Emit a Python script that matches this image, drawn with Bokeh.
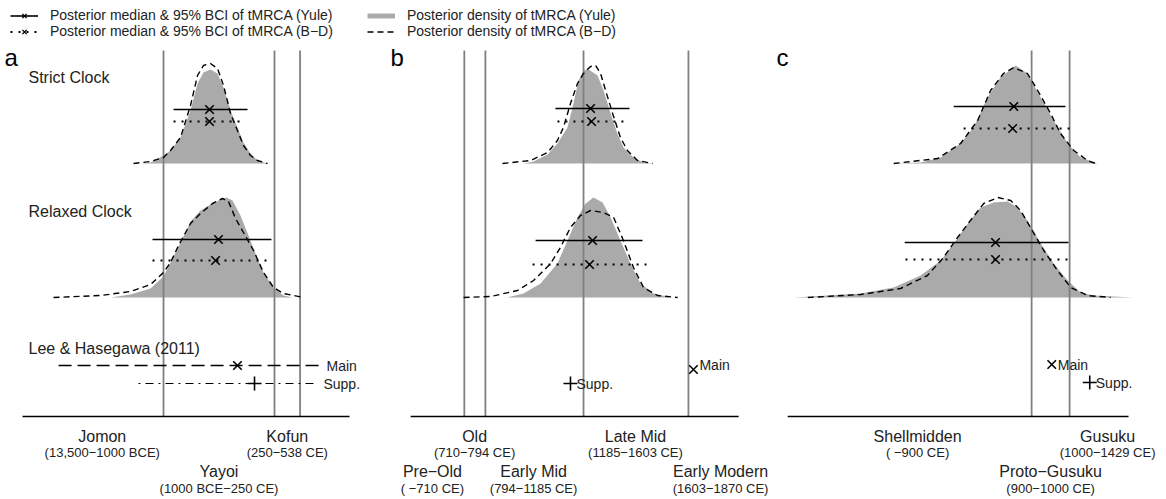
import numpy as np
from bokeh.plotting import figure
from bokeh.layouts import column, row
from bokeh.models import ColumnDataSource, Range1d, Label, Legend, LegendItem
from bokeh.core.properties import value
from bokeh.embed import file_html
from bokeh.resources import INLINE

# ---------------------------------------------------------------- data
# years CE (negative = BCE); density heights in relative units

# Panel a: mainland Japanese
a_strict_yule_x = [-1259, -1146, -1000, -921, -809, -696, -617, -550, -471, -392, -324, -245, -167, -99, -20, 59, 171]
a_strict_yule_h = [0, 1, 8, 13, 26, 53, 80, 91, 94, 90, 76, 53, 36, 21, 10, 3, 0]
a_strict_bd_x = [-1338, -1146, -1000, -921, -809, -696, -617, -550, -471, -392, -324, -245, -167, -99, -20, 59, 171]
a_strict_bd_h = [0, 2, 6, 13, 26, 58, 88, 98, 100, 95, 78, 50, 33, 18, 8, 3, 0]
a_relax_yule_x = [-1597, -1372, -1146, -1000, -865, -775, -696, -583, -471, -358, -291, -223, -133, -43, 36, 126, 239, 351, 453]
a_relax_yule_h = [0, 3, 9, 21, 45, 61, 76, 87, 93, 98, 100, 97, 82, 62, 44, 25, 10, 2, 0]
a_relax_bd_x = [-2239, -1709, -1372, -1146, -1000, -921, -831, -696, -583, -448, -336, -268, -189, -99, 14, 126, 239, 351, 577]
a_relax_bd_h = [0, 2, 6, 13, 25, 35, 52, 74, 84, 94, 99, 96, 79, 65, 47, 25, 10, 4, 0]
a_bci_lo = [-887, -887, -1124, -1124]      # strict Yule, strict B-D, relaxed Yule, relaxed B-D
a_bci_hi = [-54, -77, 216, 227]
a_bci_med = [-482, -482, -381, -414]
a_lee_lo = [-2182, -1282]                  # Main, Supp.
a_lee_hi = [768, 734]
a_lee_med = [-167, 25]
a_periods = ["Jomon", "Yayoi", "Kofun"]
a_spans = ["(13,500\u22121000 BCE)", "(1000 BCE\u2212250 CE)", "(250\u2212538 CE)"]
a_bounds = [-1000, 250, 538]

# Panel b: Japanese (historical)
b_strict_yule_x = [946, 986, 1042, 1081, 1121, 1145, 1165, 1185, 1205, 1241, 1265, 1293, 1320, 1344, 1384, 1424, 1464]
b_strict_yule_h = [0, 2, 9, 20, 36, 60, 83, 93, 94, 88, 73, 50, 30, 16, 6, 1, 0]
b_strict_bd_x = [862, 974, 1042, 1081, 1105, 1133, 1161, 1185, 1213, 1233, 1253, 1273, 1301, 1332, 1360, 1400, 1460]
b_strict_bd_h = [0, 3, 11, 23, 36, 60, 80, 90, 97, 98, 90, 73, 50, 26, 13, 3, 0]
b_relax_yule_x = [882, 946, 1014, 1081, 1121, 1161, 1193, 1225, 1261, 1293, 1332, 1372, 1412, 1464, 1532]
b_relax_yule_h = [0, 4, 14, 34, 57, 80, 94, 100, 95, 80, 57, 34, 14, 4, 0]
b_relax_bd_x = [707, 815, 922, 986, 1054, 1093, 1133, 1173, 1213, 1265, 1305, 1344, 1384, 1424, 1480, 1560]
b_relax_bd_h = [0, 1, 7, 17, 34, 50, 70, 82, 87, 85, 80, 57, 30, 10, 2, 0]
b_bci_lo = [1073, 1081, 994, 982]
b_bci_hi = [1368, 1368, 1420, 1436]
b_bci_med = [1213, 1217, 1221, 1209]
b_lee_med = [1623, 1133]
b_periods = ["Pre\u2212Old", "Old", "Early Mid", "Late Mid", "Early Modern"]
b_spans = ["( \u2212710 CE)", "(710\u2212794 CE)", "(794\u22121185 CE)", "(1185\u22121603 CE)", "(1603\u22121870 CE)"]
b_bounds = [710, 794, 1185, 1603]

# Panel c: Ryukyuan
c_strict_yule_x = [537, 608, 661, 713, 747, 784, 818, 858, 889, 924, 958, 995, 1029, 1074]
c_strict_yule_h = [0, 1, 6, 20, 36, 66, 86, 98, 90, 66, 43, 20, 6, 0]
c_strict_bd_x = [537, 653, 713, 758, 792, 826, 853, 889, 916, 950, 976, 1011, 1047, 1068]
c_strict_bd_h = [0, 5, 20, 43, 73, 90, 96, 90, 73, 50, 30, 13, 3, 0]
c_relax_yule_x = [274, 450, 537, 608, 661, 695, 732, 766, 800, 837, 863, 889, 924, 958, 995, 1029, 1063, 1168]
c_relax_yule_h = [0, 4, 10, 22, 37, 54, 74, 90, 95, 96, 90, 77, 54, 34, 17, 5, 2, 0]
c_relax_bd_x = [311, 450, 555, 626, 668, 705, 739, 774, 811, 845, 871, 897, 932, 968, 1003, 1047, 1108]
c_relax_bd_h = [0, 3, 9, 22, 40, 60, 77, 94, 100, 97, 87, 70, 47, 27, 10, 2, 0]
c_bci_lo = [695, 721, 566, 568]
c_bci_hi = [989, 1003, 997, 997]
c_bci_med = [853, 850, 805, 805]
c_lee_med = [953, 1053]
c_periods = ["Shellmidden", "Proto\u2212Gusuku", "Gusuku"]
c_spans = ["( \u2212900 CE)", "(900\u22121000 CE)", "(1000\u22121429 CE)"]
c_bounds = [900, 1000]

# ---------------------------------------------------------------- layout / style
FONT = "Liberation Sans"
FILL = "#aaaaaa"
VLINE = "#808080"
TXT = "#222222"
LEG_H = 40
PANEL_H = 458
Y_RANGE = (-82, 376)
STRICT_BASE, RELAX_BASE = 253, 119
VTOP = 366

layout_cfg = {
    "a": dict(width=380, xr=(-2836, 1444), axis=(-2588, 1095),
              bar_y=[307, 295, 177, 156], lee_y=[51, 33],
              label_at=[-1690, -375, 394], label_row=[1, 2, 1], letter_x=4),
    "b": dict(width=392, xr=(376, 1938), axis=(496, 1803),
              bar_y=[308, 295, 176, 152], lee_y=[47, 33],
              label_at=[583, 751, 986, 1392, 1731], label_row=[2, 1, 2, 1, 2], letter_x=10),
    "c": dict(width=394, xr=(218, 1255), axis=(258, 1155),
              bar_y=[310, 288, 174, 157], lee_y=[52, 34],
              label_at=[600, 950, 1100], label_row=[1, 2, 1], letter_x=4),
}
ROW_NAME_Y = {1: -20, 2: -55}
ROW_SPAN_Y = {1: -36, 2: -72}


def base_fig(w, h, xr, yr):
    p = figure(width=w, height=h, x_range=Range1d(*xr), y_range=Range1d(*yr),
               x_axis_location=None, y_axis_location=None, toolbar_location=None,
               output_backend="svg", min_border=0, outline_line_color=None)
    p.xgrid.visible = False
    p.ygrid.visible = False
    p.background_fill_color = "white"
    return p


def density(p, yx, yh, bx, bh, base):
    ys = ColumnDataSource(dict(x=yx, y1=[base] * len(yx), y2=list(np.array(yh) + base)))
    p.varea(x="x", y1="y1", y2="y2", source=ys, fill_color=FILL)
    return ColumnDataSource(dict(x=bx, y=list(np.array(bh) + base)))


def panel(key, strict_y, strict_b, relax_y, relax_b, lo, hi, med, periods, spans, bounds):
    cfg = layout_cfg[key]
    p = base_fig(cfg["width"], PANEL_H, cfg["xr"], Y_RANGE)
    s_bd = density(p, *strict_y, *strict_b, STRICT_BASE)
    r_bd = density(p, *relax_y, *relax_b, RELAX_BASE)
    # period boundaries
    p.segment(x0=bounds, x1=bounds, y0=[0] * len(bounds), y1=[VTOP] * len(bounds),
              line_color=VLINE, line_width=1.8)
    # B-D dashed densities
    p.line("x", "y", source=s_bd, line_color="black", line_width=1.4, line_dash="6 4")
    p.line("x", "y", source=r_bd, line_color="black", line_width=1.4, line_dash="6 4")
    # BCI bars
    by = cfg["bar_y"]
    yule = ColumnDataSource(dict(lo=[lo[0], lo[2]], hi=[hi[0], hi[2]], m=[med[0], med[2]], y=[by[0], by[2]]))
    bd = ColumnDataSource(dict(lo=[lo[1], lo[3]], hi=[hi[1], hi[3]], m=[med[1], med[3]], y=[by[1], by[3]]))
    p.segment(x0="lo", x1="hi", y0="y", y1="y", source=yule, line_color="black", line_width=1.6)
    p.segment(x0="lo", x1="hi", y0="y", y1="y", source=bd, line_color="black", line_width=1.8,
              line_dash="2 6")
    for src in (yule, bd):
        p.scatter(x="m", y="y", source=src, marker="x", size=12, line_color="black", line_width=1.6)
    # baseline
    ax0, ax1 = cfg["axis"]
    p.segment(x0=[ax0], x1=[ax1], y0=[0], y1=[0], line_color="black", line_width=1.6)
    # period labels
    for name, span, at, r in zip(periods, spans, cfg["label_at"], cfg["label_row"]):
        p.text(x=[at], y=[ROW_NAME_Y[r]], text=[name], text_align="center", text_baseline="middle",
               text_font=value(FONT), text_font_size="16px", text_color=TXT)
        p.text(x=[at], y=[ROW_SPAN_Y[r]], text=[span], text_align="center", text_baseline="middle",
               text_font=value(FONT), text_font_size="13px", text_color=TXT)
    p.add_layout(Label(x=cfg["letter_x"], x_units="screen", y=359, text=key, text_font=FONT,
                       text_font_size="24px", text_baseline="middle", text_color="black"))
    return p


pa = panel("a", (a_strict_yule_x, a_strict_yule_h), (a_strict_bd_x, a_strict_bd_h),
           (a_relax_yule_x, a_relax_yule_h), (a_relax_bd_x, a_relax_bd_h),
           a_bci_lo, a_bci_hi, a_bci_med, a_periods, a_spans, a_bounds)
pb = panel("b", (b_strict_yule_x, b_strict_yule_h), (b_strict_bd_x, b_strict_bd_h),
           (b_relax_yule_x, b_relax_yule_h), (b_relax_bd_x, b_relax_bd_h),
           b_bci_lo, b_bci_hi, b_bci_med, b_periods, b_spans, b_bounds)
pc = panel("c", (c_strict_yule_x, c_strict_yule_h), (c_strict_bd_x, c_strict_bd_h),
           (c_relax_yule_x, c_relax_yule_h), (c_relax_bd_x, c_relax_bd_h),
           c_bci_lo, c_bci_hi, c_bci_med, c_periods, c_spans, c_bounds)

# row labels (panel a)
for txt, y in (("Strict Clock", 339), ("Relaxed Clock", 205), ("Lee & Hasegawa (2011)", 68)):
    pa.add_layout(Label(x=28, x_units="screen", y=y, text=txt, text_font=FONT, text_font_size="16px",
                        text_baseline="middle", text_color=TXT))

# Lee & Hasegawa estimates
ly = layout_cfg["a"]["lee_y"]
lee_a = ColumnDataSource(dict(lo=a_lee_lo, hi=a_lee_hi, m=a_lee_med, y=ly, lab=["Main", "Supp."]))
pa.segment(x0=[a_lee_lo[0]], x1=[a_lee_hi[0]], y0=[ly[0]], y1=[ly[0]], line_color="black",
           line_width=1.4, line_dash="13 6")
pa.segment(x0=[a_lee_lo[1]], x1=[a_lee_hi[1]], y0=[ly[1]], y1=[ly[1]], line_color="black",
           line_width=1.2, line_dash="2 5 8 5")
pa.scatter(x=[a_lee_med[0]], y=[ly[0]], marker="x", size=12, line_color="black", line_width=1.6)
pa.scatter(x=[a_lee_med[1]], y=[ly[1]], marker="cross", size=14, line_color="black", line_width=1.6)
pa.text(x="hi", y="y", text="lab", source=lee_a, x_offset=6, text_baseline="middle",
        text_font=value(FONT), text_font_size="14px", text_color=TXT)

for p, med, key, dy in ((pb, b_lee_med, "b", -5), (pc, c_lee_med, "c", 0)):
    ly = layout_cfg[key]["lee_y"]
    p.scatter(x=[med[0]], y=[ly[0]], marker="x", size=12, line_color="black", line_width=1.6)
    p.scatter(x=[med[1]], y=[ly[1]], marker="cross", size=14, line_color="black", line_width=1.6)
    p.text(x=[med[0]], y=[ly[0]], text=["Main"], x_offset=6, y_offset=dy, text_baseline="middle",
           text_font=value(FONT), text_font_size="14px", text_color=TXT)
    p.text(x=[med[1]], y=[ly[1]], text=["Supp."], x_offset=6, text_baseline="middle",
           text_font=value(FONT), text_font_size="14px", text_color=TXT)

# ---------------------------------------------------------------- legend strip
lf = base_fig(1166, LEG_H, (0, 1), (0, 1))
off = dict(x=[-5], y=[-5])
r_yl = lf.line(line_color="black", line_width=1.6, **off)
r_ym = lf.scatter(marker="x", size=9, line_color="black", line_width=1.4, **off)
r_bl = lf.line(line_color="black", line_width=1.8, line_dash="2 6", **off)
r_bm = lf.scatter(marker="x", size=9, line_color="black", line_width=1.4, **off)
r_fd = lf.line(line_color=FILL, line_width=5, **off)
r_dd = lf.line(line_color="black", line_width=1.4, line_dash="6 4", **off)

common = dict(orientation="vertical", glyph_width=28, glyph_height=15, label_height=15, spacing=0,
              padding=0, margin=0, label_standoff=12, border_line_color=None,
              background_fill_alpha=0, label_text_font=FONT, label_text_font_size="14px",
              label_text_color=TXT)
leg1 = Legend(items=[LegendItem(label="Posterior median & 95% BCI of tMRCA (Yule)", renderers=[r_yl, r_ym]),
                     LegendItem(label="Posterior median & 95% BCI of tMRCA (B\u2212D)", renderers=[r_bl, r_bm])],
              location=(10, 1), **common)
leg2 = Legend(items=[LegendItem(label="Posterior density of tMRCA (Yule)", renderers=[r_fd]),
                     LegendItem(label="Posterior density of tMRCA (B\u2212D)", renderers=[r_dd])],
              location=(367, 1), **common)
lf.add_layout(leg1, "center")
lf.add_layout(leg2, "center")

page = column(lf, row(pa, pb, pc, spacing=0), spacing=0)
open("out.html", "w").write(file_html(page, INLINE))
